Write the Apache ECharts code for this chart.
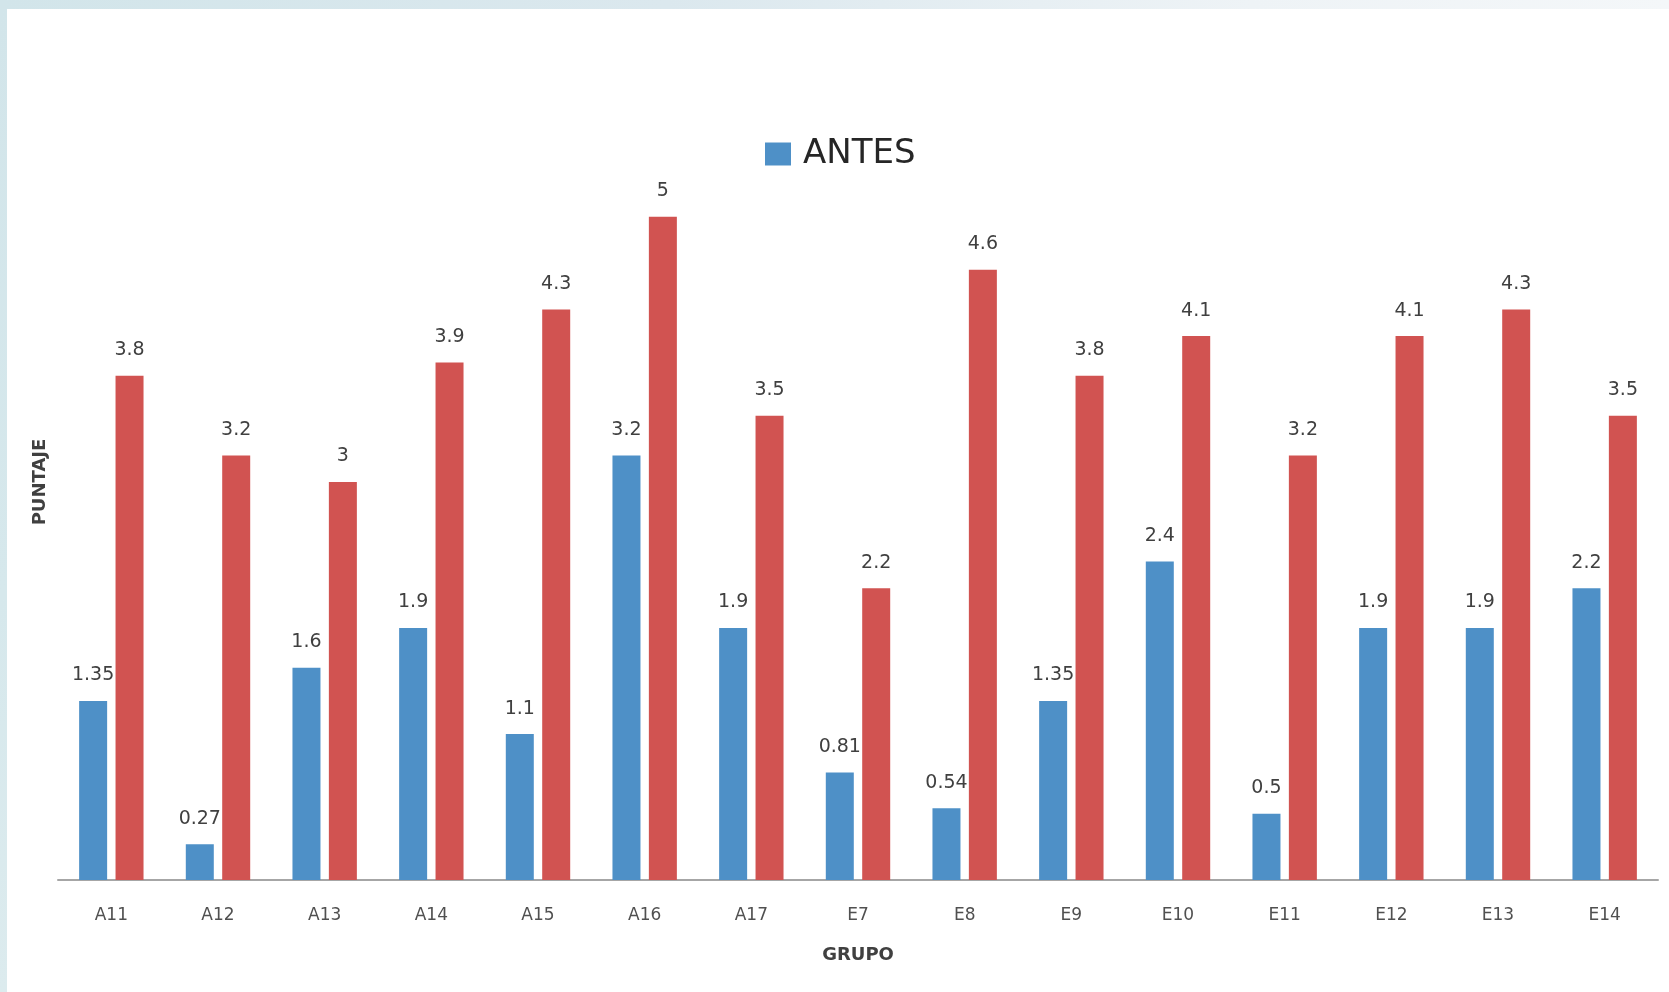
<!DOCTYPE html>
<html>
<head>
<meta charset="utf-8">
<title>PUNTAJE por GRUPO</title>
<script src="https://cdn.jsdelivr.net/npm/echarts@6/dist/echarts.min.js"></script>
<style>
  html, body { margin: 0; padding: 0; background: #ffffff; }
  #wrap { position: relative; width: 1669px; height: 992px; overflow: hidden; background: #ffffff; }
  #bandTop { position: absolute; left: 0; top: 0; width: 1669px; height: 9px;
    background: linear-gradient(to right, #d2e5ea 0%, #dbe8ee 40%, #eef3f6 75%, #f4f7f9 100%); }
  #bandLeft { position: absolute; left: 0; top: 0; width: 7px; height: 992px;
    background: linear-gradient(to bottom, #d2e5ea 0%, #d6e8ec 60%, #dcebee 100%); }
  #chart { position: absolute; left: 0; top: 0; width: 1669px; height: 992px; }
</style>
</head>
<body>
<div id="wrap">
  <div id="bandTop"></div>
  <div id="bandLeft"></div>
  <div id="chart"></div>
</div>
<script>
// Groups on the horizontal axis
const grupos = ['A11', 'A12', 'A13', 'A14', 'A15', 'A16', 'A17', 'E7', 'E8', 'E9', 'E10', 'E11', 'E12', 'E13', 'E14'];
// Score before (blue)
const antes = [1.35, 0.27, 1.6, 1.9, 1.1, 3.2, 1.9, 0.81, 0.54, 1.35, 2.4, 0.5, 1.9, 1.9, 2.2];
// Score after (red)
const despues = [3.8, 3.2, 3, 3.9, 4.3, 5, 3.5, 2.2, 4.6, 3.8, 4.1, 3.2, 4.1, 4.3, 3.5];

const FONT = '"DejaVu Sans", "Open Sans", sans-serif';
const BLUE = '#4e90c7';
const RED = '#d15351';

const labelStyle = {
  show: true,
  position: 'top',
  distance: 16,
  fontFamily: FONT,
  fontSize: 19,
  color: '#404040'
};

const chart = echarts.init(document.getElementById('chart'), null, { renderer: 'canvas' });

chart.setOption({
  backgroundColor: 'transparent',
  animation: false,
  legend: {
    data: ['ANTES'],
    left: 760,
    top: 132,
    itemWidth: 26,
    itemHeight: 23,
    icon: 'rect',
    textStyle: {
      fontFamily: FONT,
      fontSize: 34,
      color: '#262626',
      padding: [0, 0, 0, 7]
    }
  },
  grid: {
    left: 58,
    right: 11,
    top: 84,
    bottom: 112
  },
  xAxis: {
    type: 'category',
    data: grupos,
    name: 'GRUPO',
    nameLocation: 'middle',
    nameGap: 66,
    nameTextStyle: {
      fontFamily: FONT,
      fontSize: 18,
      fontWeight: 'bold',
      color: '#404040'
    },
    axisLine: { show: true, lineStyle: { color: '#a6a6a6', width: 2 } },
    axisTick: { show: false },
    axisLabel: {
      fontFamily: FONT,
      fontSize: 17,
      color: '#505050',
      margin: 27
    }
  },
  yAxis: {
    type: 'value',
    min: 0,
    max: 6,
    name: 'PUNTAJE',
    nameLocation: 'middle',
    nameGap: 9,
    nameTextStyle: {
      fontFamily: FONT,
      fontSize: 18,
      fontWeight: 'bold',
      color: '#404040'
    },
    axisLine: { show: false },
    axisTick: { show: false },
    axisLabel: { show: false },
    splitLine: { show: false }
  },
  series: [
    {
      name: 'ANTES',
      type: 'bar',
      data: antes,
      barWidth: 28,
      barGap: '30%',
      itemStyle: { color: BLUE },
      label: labelStyle
    },
    {
      name: 'DESPUÉS',
      type: 'bar',
      data: despues,
      barWidth: 28,
      barGap: '30%',
      itemStyle: { color: RED },
      label: labelStyle
    }
  ]
});
</script>
</body>
</html>
